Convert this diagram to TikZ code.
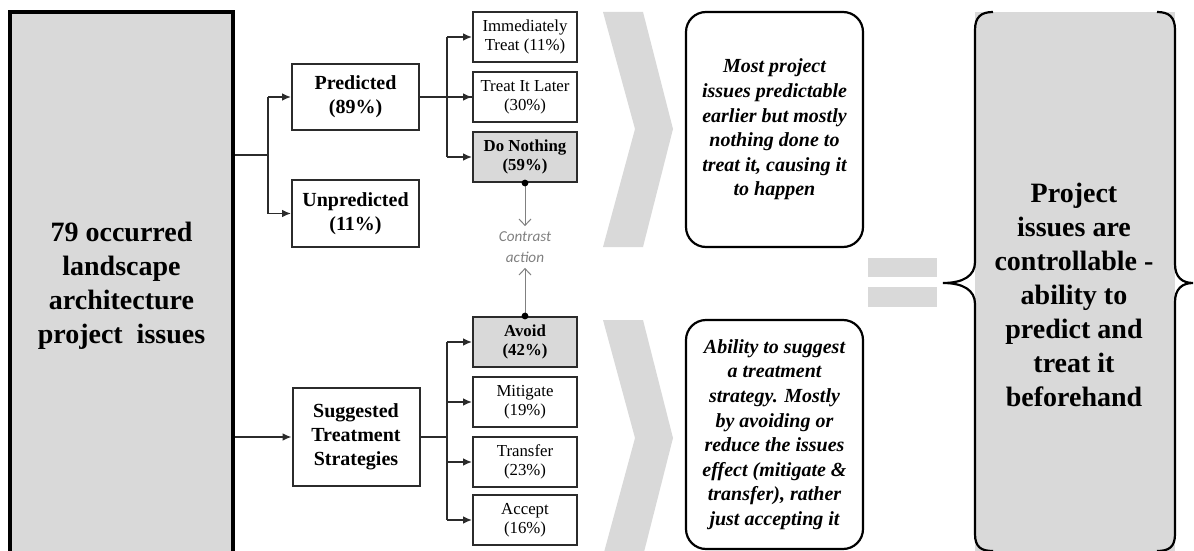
\documentclass[tikz,border=0pt]{standalone}
\usepackage{fontspec}
\setmainfont{Liberation Serif}
\newfontfamily\notefont{Carlito}
\usetikzlibrary{arrows.meta}
\definecolor{panelgray}{HTML}{D9D9D9}
\definecolor{edgeink}{HTML}{2B2B2B}
\definecolor{softgray}{HTML}{808080}

\begin{document}
\begin{tikzpicture}[x=0.5pt, y=-0.5pt,
  issuebox/.style={draw=black, line width=1.6pt, fill=panelgray, inner sep=0pt, minimum width=111.5pt, minimum height=274pt, align=center, font=\bfseries\fontsize{14}{17}\selectfont},
  groupbox/.style={draw=edgeink, line width=1pt, fill=white, minimum width=63.5pt, align=center, font=\bfseries\fontsize{10}{12}\selectfont},
  optionbox/.style={draw=edgeink, line width=1pt, fill=white, minimum width=52pt, minimum height=25pt, inner sep=1pt, align=center, font=\fontsize{8.4}{9.6}\selectfont},
  pickedbox/.style={optionbox, fill=panelgray, font=\bfseries\fontsize{8.4}{9.6}\selectfont},
  notebox/.style={draw=black, line width=1.1pt, rounded corners=10pt, minimum width=88.5pt, align=center, font=\bfseries\itshape\fontsize{10}{12.3}\selectfont},
  lbl/.style={font=\notefont\itshape\fontsize{7.6}{10.5}\selectfont, text=softgray, align=center, inner sep=2.5pt},
  wire/.style={edgeink, line width=0.7pt},
  arr/.style={wire, -{Latex[length=4.5pt, width=3.8pt]}},
  hint/.style={softgray, line width=0.5pt, -{Straight Barb[length=3.2pt, width=6pt]}},
  band/.style={fill=panelgray},
  bracket/.style={draw=black, line width=1.1pt}
]
  \useasboundingbox (0,0) rectangle (1194,551);

  % source and first split
  \node[issuebox] (issues) at (121.5,286) {79 occurred\\landscape\\architecture\\project~ issues};
  \node[groupbox, minimum height=33pt] (pred) at (355.5,97) {Predicted\\(89\%)};
  \node[groupbox, minimum height=33.5pt] (unpred) at (355.5,213.5) {Unpredicted\\(11\%)};
  \node[groupbox, minimum height=49pt] (sts) at (356,437) {Suggested\\Treatment\\Strategies};

  \coordinate (fork1) at (268,155);
  \draw[wire] (fork1 -| issues.east) -- (fork1);
  \draw[wire] (fork1 |- pred.west) -- (fork1 |- unpred.west);
  \draw[arr] (fork1 |- pred.west) -- (pred.west);
  \draw[arr] (fork1 |- unpred.west) -- (unpred.west);
  \draw[arr] (issues.east |- sts.west) -- (sts.west);

  % options
  \node[optionbox] (immed) at (525,37) {Immediately\\Treat (11\%)};
  \node[optionbox] (later) at (525,97) {Treat It Later\\(30\%)};
  \node[pickedbox] (nothing) at (525,157) {Do Nothing\\(59\%)};
  \node[pickedbox] (avoid) at (525,342) {Avoid\\(42\%)};
  \node[optionbox] (mitig) at (525,402) {Mitigate\\(19\%)};
  \node[optionbox] (transf) at (525,462) {Transfer\\(23\%)};
  \node[optionbox] (accept) at (525,520) {Accept\\(16\%)};

  \coordinate (fork2) at (447,97);
  \draw[wire] (pred.east) -- (later.west);
  \draw[wire] (fork2 |- immed.west) -- (fork2 |- nothing.west);
  \foreach \n in {immed,later,nothing}
    \draw[arr] (fork2 |- \n.west) -- (\n.west);

  \coordinate (fork3) at (447,437);
  \draw[wire] (sts.east) -- (fork3);
  \draw[wire] (fork3 |- avoid.west) -- (fork3 |- accept.west);
  \foreach \n in {avoid,mitig,transf,accept}
    \draw[arr] (fork3 |- \n.west) -- (\n.west);

  % contrast
  \node[lbl] (contrast) at (525,247) {Contrast\\action};
  \draw[hint] (nothing.south) -- (contrast.north);
  \draw[hint] (avoid.north) -- (contrast.south);
  \fill (nothing.south) circle[radius=1.7pt];
  \fill (avoid.north) circle[radius=1.7pt];

  % chevrons
  \fill[band] (603,12) -- (643,12) -- (673,129) -- (643,247) -- (603,247) -- (635,129) -- cycle;
  \fill[band] (603,320) -- (643,320) -- (673,438) -- (643,556) -- (603,556) -- (635,438) -- cycle;

  \node[notebox, minimum height=117.5pt] (note1) at (774.5,129.5) {Most project\\issues predictable\\earlier but mostly\\nothing done to\\treat it, causing it\\to happen};
  \node[notebox, minimum height=114.5pt] (note2) at (774.5,434.5) {Ability to suggest\\a treatment\\strategy. Mostly\\by avoiding or\\reduce the issues\\effect (mitigate \&\\transfer), rather\\just accepting it};

  % equals
  \fill[band] (868,258) rectangle (937,277);
  \fill[band] (868,287) rectangle (937,307);

  % braced result
  \fill[panelgray] (975,12) rectangle (1175,560);
  \draw[bracket] (993,12) .. controls (981,12) and (975,17) .. (975,30) -- (975,262)
    .. controls (975,276) and (963,283) .. (943,283)
    .. controls (963,283) and (975,290) .. (975,304) -- (975,534)
    .. controls (975,547) and (981,551) .. (993,551);
  \draw[bracket] (1157,12) .. controls (1169,12) and (1175,17) .. (1175,30) -- (1175,264)
    .. controls (1175,277) and (1182,283) .. (1193,283)
    .. controls (1182,283) and (1175,289) .. (1175,302) -- (1175,534)
    .. controls (1175,547) and (1169,551) .. (1157,551);
  \node[align=center, font=\bfseries\fontsize{14}{17}\selectfont] (verdict) at (1074,295) {Project\\issues are\\controllable -\\ability to\\predict and\\treat it\\beforehand};
\end{tikzpicture}
\end{document}
